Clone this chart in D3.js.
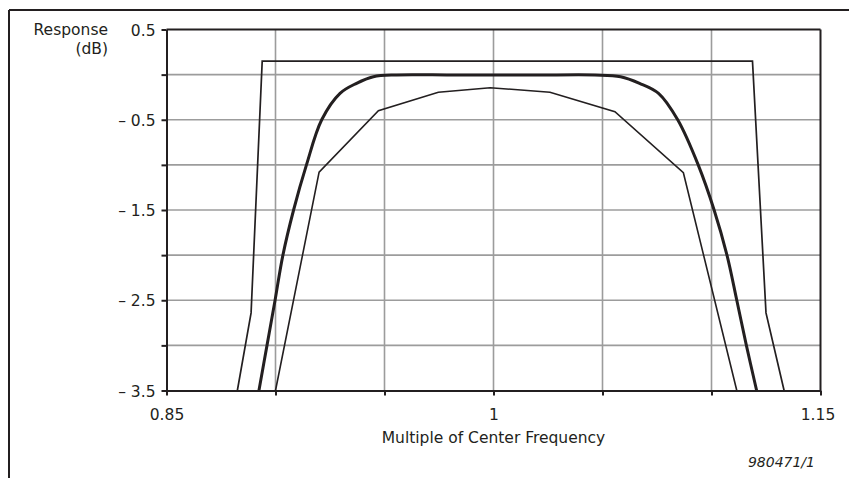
<!DOCTYPE html>
<html>
<head>
<meta charset="utf-8">
<script src="https://cdn.jsdelivr.net/npm/d3@7"></script>
<style>
  html, body { margin: 0; padding: 0; background: #fff; }
  svg { display: block; font-family: "DejaVu Sans", sans-serif; }
</style>
</head>
<body>
<svg id="chart" width="849" height="478"></svg>
<script>
// Ideal band-pass mask
const maskFreq = [0.8825, 0.8888, 0.8939, 1.1188, 1.1250, 1.1333];
const maskDb   = [-3.5,   -2.64,  0.15,   0.15,   -2.64,  -3.5];

// Smooth filter response (heavy line)
const smoothFreq = [0.8924, 0.8961, 0.8998, 0.9034, 0.9083, 0.9142, 0.9212, 0.9296, 0.9372, 0.9449,
                    0.9556, 0.9800, 1.0000, 1.0200, 1.0465,
                    1.0583, 1.0670, 1.0757, 1.0845, 1.0939, 1.1012, 1.1071, 1.1116, 1.1160, 1.1207];
const smoothDb   = [-3.5,   -3.0,   -2.5,   -2.0,   -1.5,   -1.0,   -0.50,  -0.207, -0.096, -0.023,
                    -0.003, -0.004, -0.005, -0.005, -0.004,
                    -0.023, -0.096, -0.207, -0.50,  -1.0,   -1.5,   -2.0,   -2.5,   -3.0,   -3.5];

// Piecewise response (light lower line)
const stepFreq = [0.9000, 0.9200, 0.9472, 0.9747, 0.9985, 1.0259, 1.0557, 1.0871, 1.1116];
const stepDb   = [-3.5,   -1.08,  -0.40,  -0.195, -0.145, -0.195, -0.41,  -1.087, -3.5];

const xTicks = [0.85, 0.9, 0.95, 1.0, 1.05, 1.1, 1.15];
const xTickLabels = ["0.85", "", "", "1", "", "", "1.15"];
const yTicks = [0.5, 0, -0.5, -1, -1.5, -2, -2.5, -3, -3.5];
const yTickLabels = ["0.5", "", "\u2013 0.5", "", "\u2013 1.5", "", "\u2013 2.5", "", "\u2013 3.5"];

const svg = d3.select("#chart");
const pLeft = 166.5, pRight = 820.5, pTop = 29.5, pBottom = 390.5;

const x = d3.scaleLinear().domain([0.85, 1.15]).range([pLeft, pRight]);
const y = d3.scaleLinear().domain([-3.5, 0.5]).range([pBottom, pTop]);

const ink = "#231f20";

// Outer frame (top and left rules)
svg.append("line").attr("x1", 9).attr("x2", 849).attr("y1", 10).attr("y2", 10)
  .attr("stroke", ink).attr("stroke-width", 2);
svg.append("line").attr("x1", 9).attr("x2", 9).attr("y1", 10).attr("y2", 478)
  .attr("stroke", ink).attr("stroke-width", 2);

// Grid
const grid = svg.append("g").attr("stroke", "#9c9c9c").attr("stroke-width", 1.6);
grid.selectAll(".gx").data(xTicks.slice(1, -1)).enter().append("line")
  .attr("x1", d => x(d)).attr("x2", d => x(d)).attr("y1", pTop).attr("y2", pBottom);
grid.selectAll(".gy").data(yTicks.slice(1, -1)).enter().append("line")
  .attr("x1", pLeft).attr("x2", pRight).attr("y1", d => y(d)).attr("y2", d => y(d));

// Axes
const xAxis = d3.axisBottom(x).tickValues(xTicks).tickSizeInner(5).tickSizeOuter(0)
  .tickPadding(13).tickFormat((d, i) => xTickLabels[i]);
const yAxis = d3.axisLeft(y).tickValues(yTicks).tickSizeInner(5).tickSizeOuter(0)
  .tickPadding(6).tickFormat((d, i) => yTickLabels[i]);

const gx = svg.append("g").attr("transform", `translate(0,${pBottom})`).call(xAxis);
const gy = svg.append("g").attr("transform", `translate(${pLeft},0)`).call(yAxis);
[gx, gy].forEach(g => {
  g.select(".domain").attr("stroke", ink).attr("stroke-width", 2);
  g.selectAll(".tick line").attr("stroke", ink).attr("stroke-width", 2);
  g.selectAll(".tick text").attr("fill", ink).attr("font-size", 15.5)
    .attr("font-family", "DejaVu Sans, sans-serif").attr("xml:space", "preserve");
});
gy.selectAll(".tick text").attr("dy", "0.36em");
gx.selectAll(".tick text").attr("dy", "0.75em");
gx.selectAll(".tick text").filter(d => d === 1.15).attr("dx", -3);

// Top and right border of the plot area
svg.append("line").attr("x1", pLeft).attr("x2", pRight).attr("y1", pTop).attr("y2", pTop)
  .attr("stroke", ink).attr("stroke-width", 2);
svg.append("line").attr("x1", pRight).attr("x2", pRight).attr("y1", pTop).attr("y2", pBottom)
  .attr("stroke", ink).attr("stroke-width", 2);

// Response curves
const zip = (fs, ds) => fs.map((f, i) => [f, ds[i]]);
const linear = d3.line().x(d => x(d[0])).y(d => y(d[1]));
const smooth = d3.line().x(d => x(d[0])).y(d => y(d[1])).curve(d3.curveCatmullRom.alpha(0.5));

svg.append("path").datum(zip(maskFreq, maskDb)).attr("d", linear)
  .attr("fill", "none").attr("stroke", ink).attr("stroke-width", 1.7).attr("stroke-linejoin", "miter");
svg.append("path").datum(zip(stepFreq, stepDb)).attr("d", linear)
  .attr("fill", "none").attr("stroke", ink).attr("stroke-width", 1.6);
svg.append("path").datum(zip(smoothFreq, smoothDb)).attr("d", smooth)
  .attr("fill", "none").attr("stroke", ink).attr("stroke-width", 3);

// Titles
const txt = (s, xp, yp, anchor, size, style) => svg.append("text")
  .attr("x", xp).attr("y", yp).attr("text-anchor", anchor)
  .attr("font-size", size).attr("font-style", style || "normal").attr("fill", ink).text(s);

txt("Response", 108, 34.5, "end", 15.5);
txt("(dB)", 108, 54, "end", 15.5);
txt("Multiple of Center Frequency", 493.5, 443, "middle", 15.5);
txt("980471/1", 815, 467, "end", 14, "italic");
</script>
</body>
</html>
